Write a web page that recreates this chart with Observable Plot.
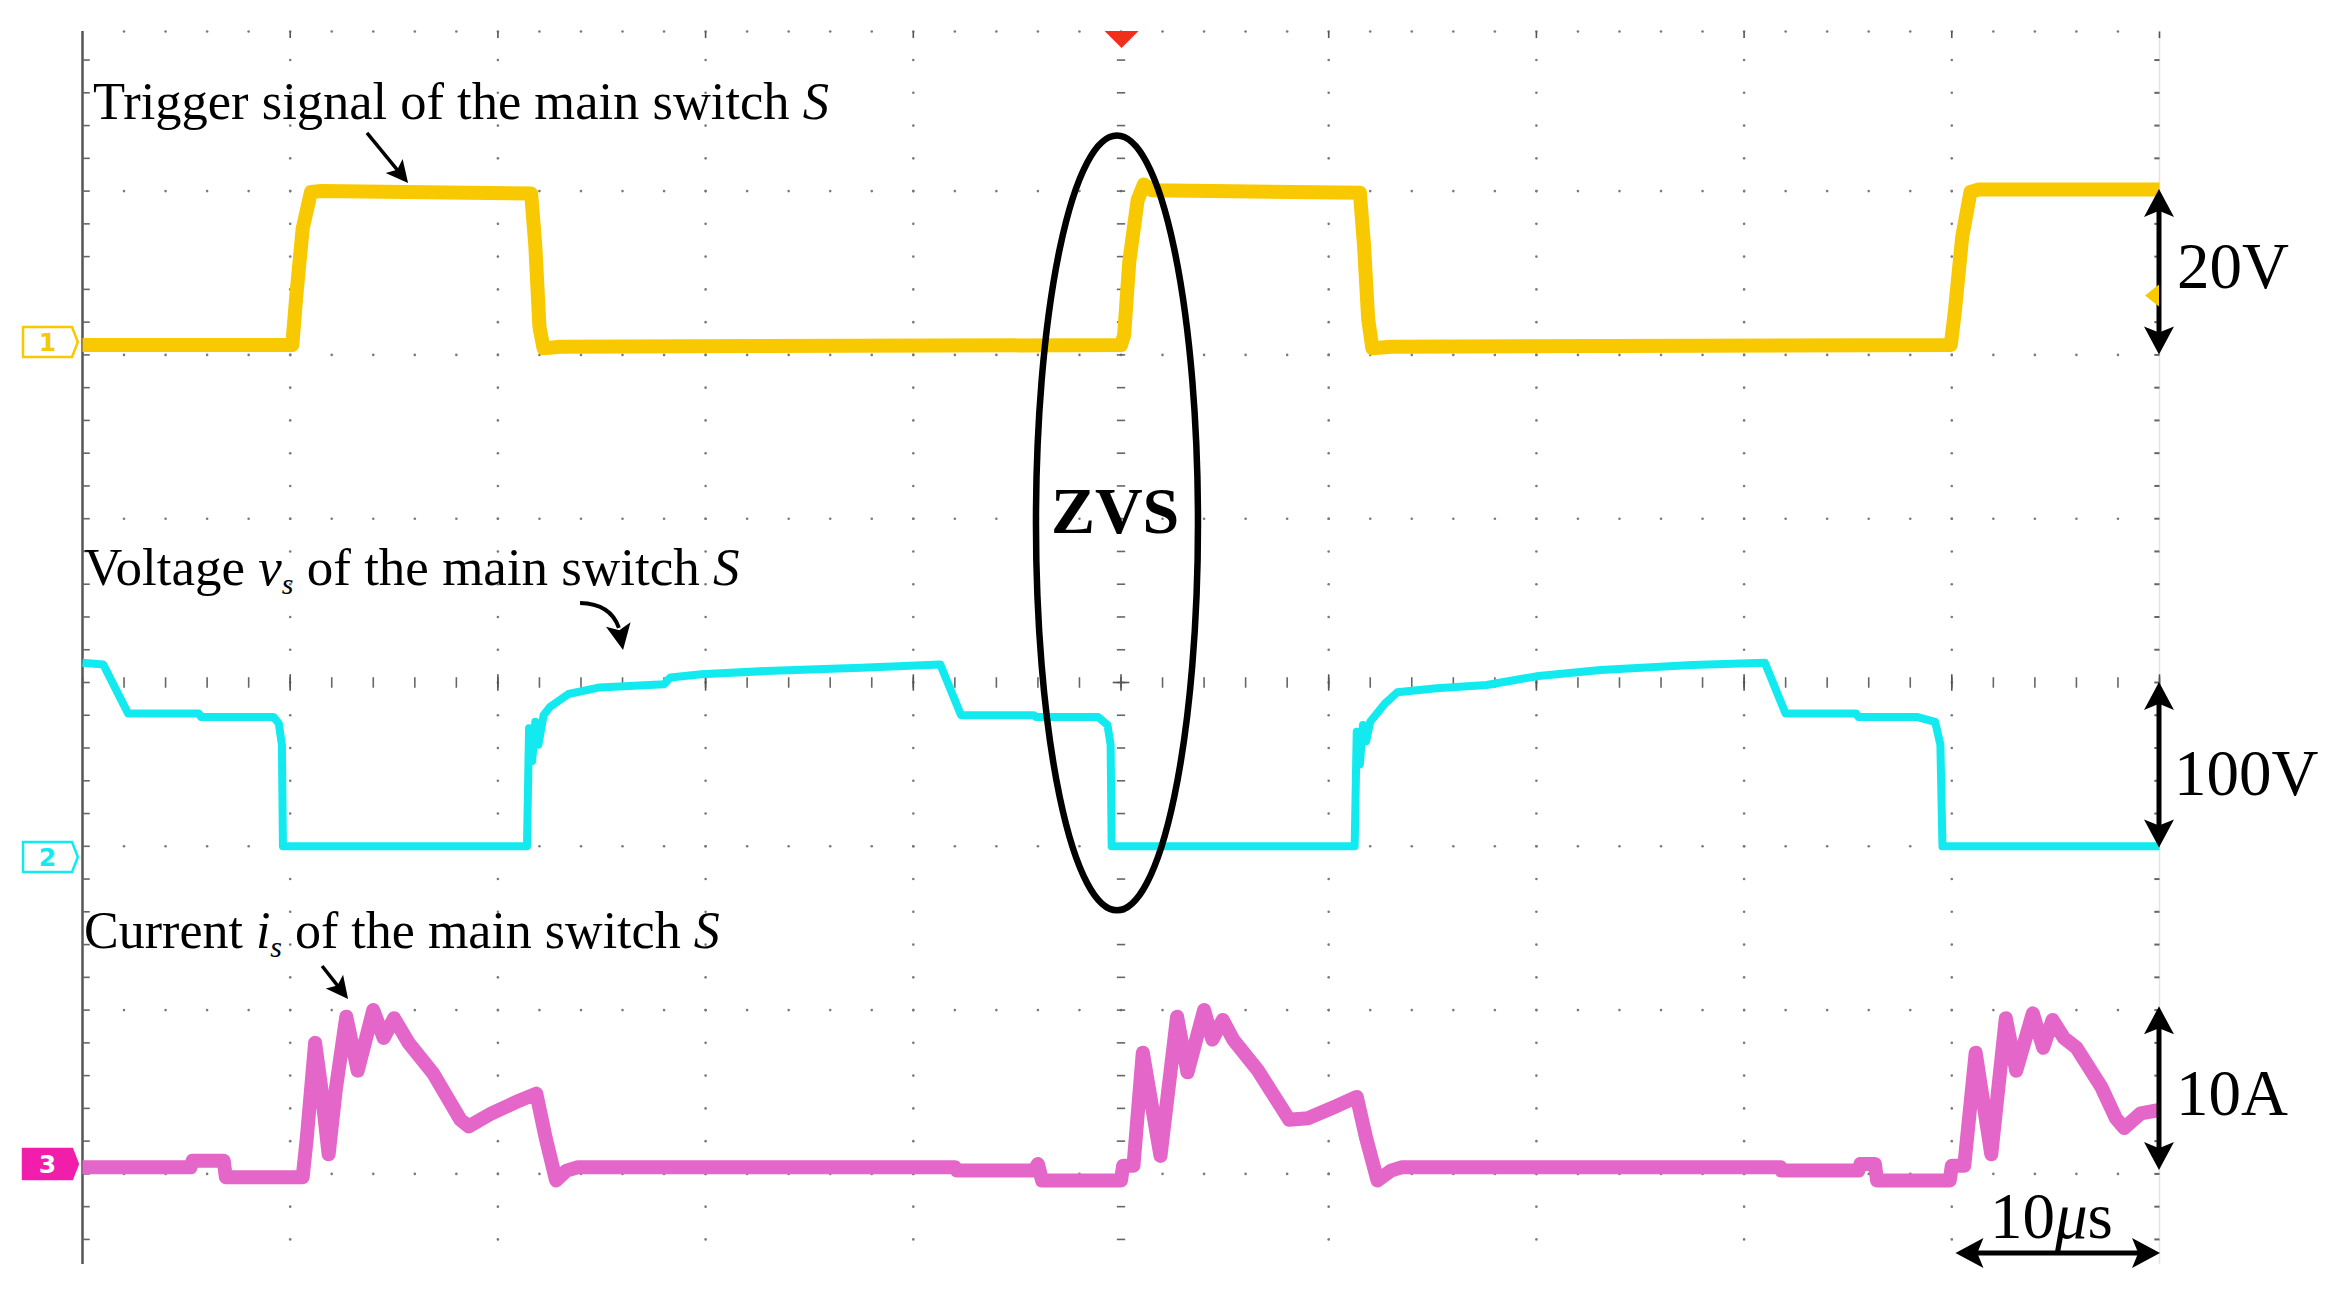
<!DOCTYPE html>
<html><head><meta charset="utf-8">
<script src="https://cdn.jsdelivr.net/npm/d3@7"></script>
<script src="https://cdn.jsdelivr.net/npm/@observablehq/plot@0.6"></script>
<style>
html,body{margin:0;padding:0;background:#fff;overflow:hidden}
#chart{width:2327px;height:1301px}
</style>
</head><body><div id="chart"></div>
<script>
// ---------- DATA (time in µs, values in physical units) ----------
const ch1Time = [0,10.1,10.3,10.6,11.0,11.5,21.6,21.8,22.0,22.2,23.0, 50.0,50.15,50.4,50.8,51.1,51.5,61.5,61.7,61.9,62.1,63.0, 89.95,90.15,90.5,90.9,91.3,100];
const ch1Volt = [-0.2,-0.2,6,14,18.5,18.6,18.3,12,2,-0.6,-0.4, -0.2,1,10,17.5,19.4,18.7,18.4,12,3,-0.6,-0.4, -0.2,4,13,18.5,18.8,18.8];

const ch2Time = [0,1.0,2.2,5.6,5.7,9.2,9.45,9.6,9.65, 21.4,21.5,21.65,21.8,21.95,22.2,22.5,23.4,24.9,28.0,28.3,29.8,32.9,37.5,41.3,42.3, 45.8,45.9,48.9,49.35,49.5,49.55, 61.25,61.35,61.5,61.65,61.8,62.0,62.7,63.3,65.2,67.6,70.1,73.1,77.5,81.0,82.0, 85.4,85.5,88.3,89.2,89.45,89.55,100];
const ch2Volt = [112,111,81,81,79,79,75,62,0, 0,72,52,76,62,80,85,93,97,99,103,105,107,109,111,80, 80,79,79,74,62,0, 0,70,50,74,64,76,87,94,96.5,98.5,104,107.6,110.7,112,81, 81,79,79,76,62,0,0];

const ch3Time = [0,5.2,5.3,6.8,6.9,10.6,10.8,11.2,11.5,11.85, 12.2,12.7,13.25,14.0,14.5,15.0,15.7,16.9,18.2,18.6, 19.7,20.9,21.85,22.3,22.8,23.3,23.85,42.0,42.1,45.8, 46.0,46.2,50.0,50.1,50.6,51.05,51.9,52.7,53.2,54.0, 54.4,54.9,55.4,56.6,58.1,59.0,60.3,61.35,61.8,62.35, 63.0,63.5,81.75,81.8,85.5,85.6,86.3,86.4,89.9,90.0, 90.6,91.15,91.9,92.6,93.1,93.9,94.4,94.85,95.4,96.0, 97.2,97.9,98.3,99.1,100];
const ch3Amp = [0.2,0.2,0.6,0.6,-0.4,-0.4,2,7.8,5,1.0, 5,9.4,6.1,9.8,8.1,9.3,7.8,5.9,3.1,2.7, 3.5,4.2,4.7,2.0,-0.6,0,0.2,0.2,0,0, 0.4,-0.6,-0.6,0.3,0.3,7.2,0.9,9.4,6.0,9.8, 8.0,9.2,8.0,6.1,3.1,3.2,3.9,4.5,2,-0.6, 0,0.2,0.2,0,0,0.4,0.4,-0.6,-0.6,0.3, 0.3,7.2,1.0,9.3,6.1,9.6,7.5,9.2,8.1,7.5, 5.1,3.2,2.6,3.5,3.7];

// channel settings: ground position (divisions from screen centre) and units per division
const channelNames = ["1","2","3"];
const channelOffset = [2.07, -1.0, -2.98];
const channelPerDiv = [20, 100, 10];
const channelColor = ["#F8C800", "#12EAF0", "#E466C8"];
const channelWidth = [14, 8, 14];

// scale annotations
const scaleLabels = ["20V", "100V", "10A"];
const timeLabel = "10";

// ---------- LAYOUT ----------
const W = 2327, H = 1301;
const mL = 82, mR = 168, mT = 31, mB = 37;
const divPx = 163.8, centrePx = 682;
const yTop = (centrePx - mT) / divPx;
const yBot = -((H - mB) - centrePx) / divPx;

const toRows = (T, V, k) => T.map((t, i) => ({t, y: channelOffset[k] + V[i] / channelPerDiv[k], ch: k}));
const trace1 = toRows(ch1Time, ch1Volt, 0);
const trace2 = toRows(ch2Time, ch2Volt, 1);
const trace3 = toRows(ch3Time, ch3Amp, 2);

// graticule
const xMinor = d3.range(0, 50).map(k => k * 2).concat([100]);
const xMajor = d3.range(0, 11).map(k => k * 10);
const yMinor = d3.range(-17, 20).map(k => +(k * 0.2).toFixed(2));
const rowYs = [-3, -2, -1, 1, 2, 3, yTop];
const rowDots = rowYs.flatMap(y => xMinor.filter(x => x > 0 && x < 100).map(x => ({x, y})));
const colDots = xMajor.filter(x => x > 0 && x < 100 && x !== 50).flatMap(x => yMinor.map(y => ({x, y})));

const plot = Plot.plot({
  width: W, height: H,
  marginLeft: mL, marginRight: mR, marginTop: mT, marginBottom: mB,
  x: {domain: [0, 100], axis: null},
  y: {domain: [yBot, yTop], axis: null},
  style: {background: "#fff", overflow: "visible"},
  marks: [
    Plot.ruleX([100], {stroke: "#e4e4e4", strokeWidth: 1.5}),
    Plot.dot(rowDots, {x: "x", y: "y", r: 1.3, fill: "#7a7a7a", stroke: null}),
    Plot.dot(colDots, {x: "x", y: "y", r: 1.3, fill: "#7a7a7a", stroke: null}),
    Plot.link(xMinor, {x1: d => d, x2: d => d, y1: -0.032, y2: 0.032, stroke: "#666", strokeWidth: 1.6}),
    Plot.link(xMajor.filter(x => x > 0), {x1: d => d, x2: d => d, y1: -0.05, y2: 0.05, stroke: "#555", strokeWidth: 1.6}),
    Plot.link(yMinor, {x1: 49.8, x2: 50.2, y1: d => d, y2: d => d, stroke: "#666", strokeWidth: 1.6}),
    Plot.link([0], {x1: 49.6, x2: 50.4, y1: 0, y2: 0, stroke: "#555", strokeWidth: 1.6}),
    Plot.link(xMajor.filter(x => x > 0), {x1: d => d, x2: d => d, y1: yTop, y2: yTop - 0.04, stroke: "#555", strokeWidth: 1.6}),
    Plot.link(yMinor, {x1: 99.75, x2: 100, y1: d => d, y2: d => d, stroke: "#666", strokeWidth: 2}),
    Plot.ruleX([0], {stroke: "#555", strokeWidth: 2.5}),
    Plot.link(yMinor, {x1: 0, x2: 0.35, y1: d => d, y2: d => d, stroke: "#666", strokeWidth: 1.6}),
    Plot.line(trace1, {x: "t", y: "y", stroke: channelColor[0], strokeWidth: channelWidth[0], strokeLinejoin: "round", strokeLinecap: "butt"}),
    Plot.line(trace2, {x: "t", y: "y", stroke: channelColor[1], strokeWidth: channelWidth[1], strokeLinejoin: "round", strokeLinecap: "butt"}),
    Plot.line(trace3, {x: "t", y: "y", stroke: channelColor[2], strokeWidth: channelWidth[2], strokeLinejoin: "round", strokeLinecap: "butt"})
  ]
});
document.getElementById("chart").appendChild(plot);

// ---------- ANNOTATIONS (positions in data units, mapped through the scales) ----------
const sx = plot.scale("x"), sy = plot.scale("y");
const X = v => sx.apply(v), Y = v => sy.apply(v);
const svg = d3.select(plot);
const g = svg.append("g").attr("text-anchor", "start");
const serif = "'Liberation Serif','Times New Roman',Times,serif";

// curve labels
const labelPieces = [
  [{s: "Trigger signal of the main switch "}, {s: "S", i: true}],
  [{s: "Voltage "}, {s: "v", i: true}, {s: "s", i: true, sub: true}, {s: " of the main switch "}, {s: "S", i: true}],
  [{s: "Current "}, {s: "i", i: true}, {s: "s", i: true, sub: true}, {s: " of the main switch "}, {s: "S", i: true}]
];
const labelT = [0.53, 0.1, 0.1];
const labelDiv = [3.437, 0.592, -1.624];
const labelSize = [52.5, 53, 52];
labelPieces.forEach((pieces, k) => {
  const txt = g.append("text").attr("x", X(labelT[k])).attr("y", Y(labelDiv[k]))
    .attr("text-anchor", "start")
    .attr("font-family", serif).attr("font-size", labelSize[k]).attr("fill", "#000")
    .style("white-space", "pre");
  let sub = false;
  pieces.forEach(p => {
    const ts = txt.append("tspan").text(p.s);
    if (p.i) ts.attr("font-style", "italic");
    if (p.sub) { ts.attr("font-size", 30).attr("dy", 9); sub = true; }
    else if (sub) { ts.attr("dy", -9); sub = false; }
  });
});

// arrow helpers
function headPath(x, y, ang, len, hw) {
  const c = Math.cos(ang), s = Math.sin(ang);
  const bx = x - len * c, by = y - len * s;
  const nx = -s, ny = c;
  const mx = x - len * 0.78 * c, my = y - len * 0.78 * s;
  return `M${x},${y}L${bx + nx * hw},${by + ny * hw}L${mx},${my}L${bx - nx * hw},${by - ny * hw}Z`;
}
function arrow(t0, d0, t1, d1, len, hw, sw, both) {
  const x0 = X(t0), y0 = Y(d0), x1 = X(t1), y1 = Y(d1);
  const ang = Math.atan2(y1 - y0, x1 - x0);
  const c = Math.cos(ang), s = Math.sin(ang);
  const sx0 = both ? x0 + len * 0.7 * c : x0, sy0 = both ? y0 + len * 0.7 * s : y0;
  g.append("line").attr("x1", sx0).attr("y1", sy0).attr("x2", x1 - len * 0.7 * c).attr("y2", y1 - len * 0.7 * s)
    .attr("stroke", "#000").attr("stroke-width", sw);
  g.append("path").attr("d", headPath(x1, y1, ang, len, hw)).attr("fill", "#000");
  if (both) g.append("path").attr("d", headPath(x0, y0, ang + Math.PI, len, hw)).attr("fill", "#000");
}

// pointer arrows to the labels
const pointerFrom = [[13.72, 3.352], [11.56, -1.734]];
const pointerTo = [[15.70, 3.046], [12.81, -1.935]];
pointerFrom.forEach((p, k) => arrow(p[0], p[1], pointerTo[k][0], pointerTo[k][1], 22, 11, 3.5, false));

// curved arrow for v_s
const curveTail = [23.98, 0.482], curveCtrl = [25.45, 0.478], curveEnd = [25.85, 0.33], curveTip = [26.05, 0.195];
g.append("path")
  .attr("d", `M${X(curveTail[0])},${Y(curveTail[1])}Q${X(curveCtrl[0])},${Y(curveCtrl[1])} ${X(curveEnd[0])},${Y(curveEnd[1])}`)
  .attr("fill", "none").attr("stroke", "#000").attr("stroke-width", 4);
{
  const ang = Math.atan2(Y(curveTip[1]) - Y(curveEnd[1]), X(curveTip[0]) - X(curveEnd[0]));
  g.append("path").attr("d", headPath(X(curveTip[0]), Y(curveTip[1]), ang, 26, 12.5)).attr("fill", "#000");
}

// vertical scale arrows at right edge
const scaleArrowTop = [3.01, 0.0, -1.98];
const scaleArrowBot = [2.0, -1.01, -2.98];
const scaleLabelT = [100.87, 100.72, 100.82];
const scaleLabelDiv = [2.405, -0.690, -2.643];
scaleLabels.forEach((lab, k) => {
  arrow(100, scaleArrowTop[k], 100, scaleArrowBot[k], 28, 15, 5, true);
  g.append("text").attr("x", X(scaleLabelT[k])).attr("y", Y(scaleLabelDiv[k])).attr("text-anchor", "start")
    .attr("font-family", serif).attr("font-size", 65).attr("fill", "#000").text(lab);
});

// horizontal time-scale arrow
arrow(90.2, -3.486, 100.05, -3.486, 28, 15, 5, true);
{
  const t = g.append("text").attr("x", X(91.86)).attr("y", Y(-3.394)).attr("text-anchor", "start")
    .attr("font-family", serif).attr("font-size", 65).attr("fill", "#000");
  t.append("tspan").text(timeLabel);
  t.append("tspan").attr("font-style", "italic").text("\u03bc");
  t.append("tspan").text("s");
}

// ZVS ellipse and label
const ellipseT = 49.83, ellipseDiv = 0.971, ellipseHalfT = 3.9, ellipseHalfDiv = 2.365;
g.append("ellipse").attr("cx", X(ellipseT)).attr("cy", Y(ellipseDiv))
  .attr("rx", X(ellipseT + ellipseHalfT) - X(ellipseT)).attr("ry", Y(ellipseDiv - ellipseHalfDiv) - Y(ellipseDiv))
  .attr("fill", "none").attr("stroke", "#000").attr("stroke-width", 6.5);
g.append("text").attr("x", X(46.65)).attr("y", Y(0.91)).attr("text-anchor", "start")
  .attr("font-family", serif).attr("font-weight", "bold").attr("font-size", 66).attr("fill", "#000").text("ZVS");

// trigger position marker (top centre)
{
  const cx = X(50.05), ty = Y(yTop);
  g.append("path").attr("d", `M${cx - 17},${ty}L${cx + 17},${ty}L${cx},${ty + 17}Z`).attr("fill", "#F0301A");
}
// trigger level marker (right edge, ch1)
{
  const rx = X(100), cy = Y(2.36);
  g.append("path").attr("d", `M${rx - 14},${cy}L${rx},${cy - 11}L${rx},${cy + 11}Z`).attr("fill", channelColor[0]);
}

// channel ground markers
const markerDiv = [2.076, -1.068, -2.943];
const markerFilled = [false, false, true];
channelNames.forEach((name, k) => {
  const x0 = X(-2.84), x1 = X(-0.48), x2 = X(-0.2), cy = Y(markerDiv[k]), hh = 15;
  const col = k === 2 ? "#F01EAA" : channelColor[k];
  g.append("path").attr("d", `M${x0},${cy - hh}L${x1},${cy - hh}L${x2},${cy}L${x1},${cy + hh}L${x0},${cy + hh}Z`)
    .attr("fill", markerFilled[k] ? col : "#fff").attr("stroke", col).attr("stroke-width", 2.5);
  g.append("text").attr("x", (x0 + x1) / 2).attr("y", cy + 9).attr("text-anchor", "middle")
    .attr("font-family", "'DejaVu Sans',sans-serif").attr("font-weight", "bold").attr("font-size", 25)
    .attr("fill", markerFilled[k] ? "#fff" : col).text(name);
});
</script>
</body></html>
